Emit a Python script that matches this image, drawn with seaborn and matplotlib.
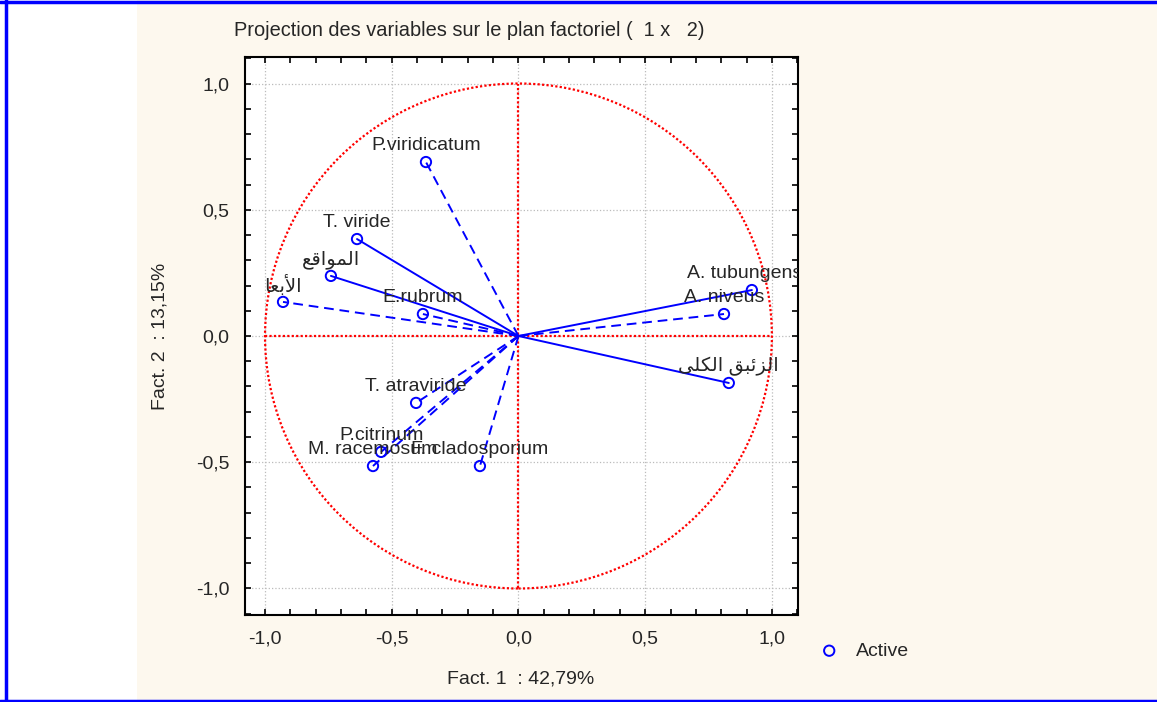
import matplotlib
matplotlib.use("Agg")
import matplotlib.pyplot as plt
from matplotlib.patches import Circle, Rectangle
from matplotlib.lines import Line2D
from matplotlib.ticker import MultipleLocator, FuncFormatter
import seaborn as sns

# Arabic labels written in presentation forms, visual (left-to-right) order,
# since matplotlib does no Arabic shaping itself
ar_mawaqi = "\uFECA\uFED7\uFE8D\uFEEE\uFEE4\uFEDF\uFE8D"          # المواقع
ar_abaad = "\uFE8E\uFECC\uFE91\uFEF7\uFE8D"                        # الأبعا
ar_zeibaq = "\uFEF0\uFEE0\uFEDC\uFEDF\uFE8D \uFED6\uFE92\uFE8B\uFEB0\uFEDF\uFE8D"  # الزئبق الكلى

labels = ["P.viridicatum", "T. viride", ar_mawaqi, ar_abaad, "E.rubrum",
          "A. tubungensis", "A. niveus", ar_zeibaq, "T. atraviride",
          "P.citrinum", "M. racemosum", "F. cladosporium"]
fact1 = [-0.365, -0.637, -0.740, -0.929, -0.377, 0.921, 0.811, 0.830,
         -0.404, -0.542, -0.574, -0.152]
fact2 = [0.689, 0.384, 0.238, 0.135, 0.087, 0.182, 0.087, -0.186,
         -0.265, -0.459, -0.515, -0.515]
line_style = ["--", "-", "-", "--", "--", "-", "--", "-", "--", "--", "--", "--"]

title = "Projection des variables sur le plan factoriel (  1 x   2)"
xlab = "Fact. 1  : 42,79%"
ylab = "Fact. 2  : 13,15%"

sns.set_style("ticks")
plt.rcParams["font.family"] = ["Liberation Sans", "DejaVu Sans"]
fs = 14

cream = "#FDF8EE"
blue = "#0000FF"
fig = plt.figure(figsize=(11.57, 7.02), dpi=100, facecolor=cream)
W, H = 1157, 702

# white strip on the left and blue frame
fig.patches.append(Rectangle((0, 0), 137 / W, 1, transform=fig.transFigure,
                             facecolor="white", edgecolor="none", zorder=0))
for xs, ys in [([6 / W, 6 / W], [0, 1]), ([0, 1], [1 - 1.5 / H, 1 - 1.5 / H]),
               ([0, 1], [1.5 / H, 1.5 / H])]:
    fig.lines.append(Line2D(xs, ys, transform=fig.transFigure, color=blue, lw=2.5))

ax = fig.add_axes([245 / W, 1 - 615 / H, 553 / W, 558 / H])
ax.set_facecolor("white")
ax.set_xlim(-1.079, 1.103)
ax.set_ylim(-1.105, 1.105)

# unit circle and axes through the origin
ax.add_patch(Circle((0, 0), 1, fill=False, ec="red", lw=1.6, ls=(0, (1, 1)), zorder=2))
ax.plot([-1, 1], [0, 0], color="red", lw=1.6, ls=(0, (1, 1)), zorder=2)
ax.plot([0, 0], [-1, 1], color="red", lw=1.6, ls=(0, (1, 1)), zorder=2)

for x, y, ls in zip(fact1, fact2, line_style):
    ax.plot([0, x], [0, y], color=blue, lw=1.4, ls=ls,
            dashes=(5, 3) if ls == "--" else (None, None), zorder=3)

sns.scatterplot(x=fact1, y=fact2, marker="o", s=55, facecolor="none",
                edgecolor=blue, linewidth=1.4, ax=ax, zorder=4, label="Active")

for x, y, lab in zip(fact1, fact2, labels):
    ax.annotate(lab, (x, y), xytext=(0, 12), textcoords="offset points",
                ha="center", va="center", fontsize=fs, clip_on=True, zorder=5)

ax.xaxis.set_major_locator(MultipleLocator(0.5))
ax.yaxis.set_major_locator(MultipleLocator(0.5))
ax.xaxis.set_minor_locator(MultipleLocator(0.1))
ax.yaxis.set_minor_locator(MultipleLocator(0.1))
fmt = FuncFormatter(lambda v, p: f"{v:.1f}".replace(".", ",").replace("-0,0", "0,0"))
ax.xaxis.set_major_formatter(fmt)
ax.yaxis.set_major_formatter(fmt)
ax.tick_params(which="both", direction="in", top=True, right=True, length=4,
               width=1.2, color="black")
ax.tick_params(which="major", pad=11, labelsize=fs)
ax.grid(True, which="major", color="#BBBBBB", ls=":", lw=0.9)
for sp in ax.spines.values():
    sp.set_linewidth(1.5)
    sp.set_color("black")

fig.text(234 / W, 1 - 31 / H, title, ha="left", va="center", fontsize=14.4)
fig.text(521 / W, 1 - 679 / H, xlab, ha="center", va="center", fontsize=fs)
fig.text(160 / W, 1 - 336 / H, ylab, ha="center", va="center", rotation=90, fontsize=fs)

ax.legend(loc="center left", bbox_to_anchor=(802 / W, 1 - 651 / H),
          bbox_transform=fig.transFigure, frameon=False, handletextpad=0.35,
          fontsize=fs, borderaxespad=0)

fig.savefig("out.png", dpi=100, facecolor=cream)
